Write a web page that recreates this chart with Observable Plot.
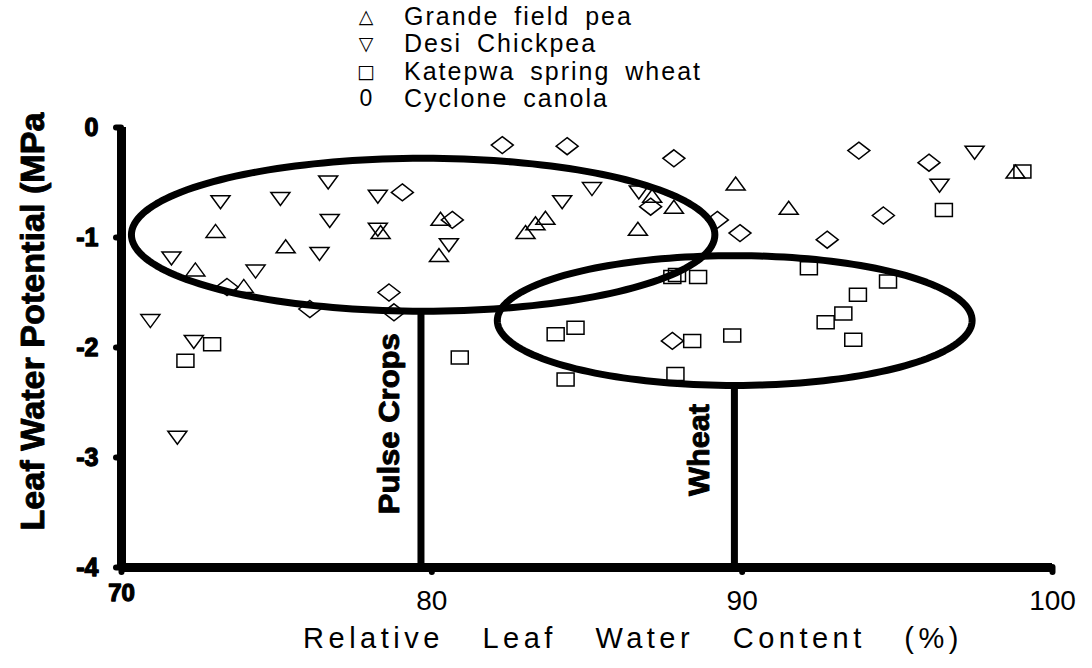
<!DOCTYPE html>
<html><head><meta charset="utf-8">
<script src="https://cdn.jsdelivr.net/npm/d3@7"></script>
<script src="https://cdn.jsdelivr.net/npm/@observablehq/plot@0.6"></script>
<style>
body{margin:0;background:#fff;font-family:"Liberation Sans",Arial,sans-serif;}
#legend{position:relative;height:112px;width:1092px;}
.row{position:absolute;left:0;height:28px;line-height:28px;font-size:25px;color:#000;white-space:nowrap;}
.sym{position:absolute;left:354px;width:24px;text-align:center;font-family:"DejaVu Sans",sans-serif;font-size:19px;}
.sym.digit{font-family:"Liberation Sans",Arial,sans-serif;font-size:23px;}
.lab{position:absolute;left:404px;letter-spacing:2px;word-spacing:6px;}
</style></head><body>
<div id="legend"></div><div id="chart"></div>
<script>
// ---- data ----
const seriesNames = ["Grande field pea", "Desi Chickpea", "Katepwa spring wheat", "Cyclone canola"];
const legendSymbols = ["\u25B3", "\u25BD", "\u25A1", "0"];

const grandeX = [73.03, 78.35, 75.29, 72.38, 73.94, 80.28, 80.23, 83.66, 83.34, 83.02, 86.64, 87.10, 87.80, 89.79, 91.50, 98.81];
const grandeY = [-0.94, -0.95, -1.08, -1.29, -1.44, -0.83, -1.16, -0.82, -0.87, -0.95, -0.92, -0.62, -0.72, -0.51, -0.73, -0.40];

const desiX = [73.19, 75.12, 76.66, 78.26, 76.71, 78.26, 76.38, 71.61, 74.32, 70.93, 72.33, 71.80, 85.16, 84.20, 86.67, 80.55, 97.49, 96.36];
const desiY = [-0.68, -0.65, -0.50, -0.63, -0.85, -0.93, -1.15, -1.19, -1.31, -1.76, -1.95, -2.82, -0.56, -0.68, -0.59, -1.07, -0.23, -0.53];

const katepwaX = [72.92, 72.06, 87.75, 87.90, 88.58, 83.99, 84.63, 80.90, 84.31, 88.39, 87.85, 99.03, 96.50, 92.15, 94.70, 93.73, 93.26, 92.69, 93.58, 89.68];
const katepwaY = [-1.97, -2.12, -1.36, -1.34, -1.36, -1.88, -1.82, -2.09, -2.29, -1.94, -2.24, -0.40, -0.75, -1.28, -1.40, -1.52, -1.69, -1.77, -1.93, -1.89];

const cycloneX = [79.05, 73.40, 76.07, 78.62, 78.78, 82.27, 84.36, 87.80, 87.05, 80.66, 87.75, 93.76, 96.02, 94.55, 89.93, 92.74, 89.20];
const cycloneY = [-0.59, -1.45, -1.65, -1.50, -1.68, -0.16, -0.17, -0.28, -0.72, -0.84, -1.94, -0.21, -0.32, -0.80, -0.96, -1.02, -0.84];

// group ellipses (centre and semi-axes, data units)
const groupNames = ["Pulse Crops", "Wheat"];
const groupCx = [79.72, 89.76];
const groupCy = [-0.975, -1.755];
const groupRx = [9.40, 7.65];
const groupRy = [0.695, 0.59];
// vertical divider lines
const dividerX = [79.65, 89.75];
const dividerTop = [-1.67, -2.35];

const xTicks = [70, 80, 90, 100];
const yTicks = [0, -1, -2, -3, -4];

// ---- legend ----
const leg = document.getElementById("legend");
seriesNames.forEach((n, i) => {
  const r = document.createElement("div");
  r.className = "row";
  r.style.top = (2 + i * 27.3) + "px";
  const cls = legendSymbols[i] === "0" ? "sym digit" : "sym";
  r.innerHTML = `<span class="${cls}">${legendSymbols[i]}</span><span class="lab">${n}</span>`;
  leg.appendChild(r);
});

// ---- symbols ----
const triUp = {draw(c){c.moveTo(-9.5,6.5);c.lineTo(9.5,6.5);c.lineTo(0,-6.5);c.closePath();}};
const triDown = {draw(c){c.moveTo(-9.5,-6.5);c.lineTo(9.5,-6.5);c.lineTo(0,6.5);c.closePath();}};
const rectSym = {draw(c){c.moveTo(-8.5,-6.5);c.lineTo(8.5,-6.5);c.lineTo(8.5,6.5);c.lineTo(-8.5,6.5);c.closePath();}};
const diamond = {draw(c){c.moveTo(0,-8.5);c.lineTo(11,0);c.lineTo(0,8.5);c.lineTo(-11,0);c.closePath();}};

const pts = (X, Y) => X.map((x, i) => ({x, y: Y[i]}));
const ellipsePts = groupNames.flatMap((g, k) =>
  d3.range(0, 360, 2).map(a => ({g, x: groupCx[k] + groupRx[k] * Math.cos(a * Math.PI / 180),
                                  y: groupCy[k] + groupRy[k] * Math.sin(a * Math.PI / 180)})));
const dividers = groupNames.map((g, k) => ({g, x: dividerX[k], top: dividerTop[k]}));

const dotOpts = {x: "x", y: "y", stroke: "black", strokeWidth: 1.5, fill: "none", r: 6};
const tickOpts = {tickSize: 5, strokeWidth: 6, strokeLinecap: "round", label: null};

const chart = Plot.plot({
  width: 1092, height: 556,
  marginTop: 15, marginBottom: 101, marginLeft: 121, marginRight: 40,
  style: {fontFamily: "'Liberation Sans', Arial, sans-serif", background: "white", color: "black"},
  x: {domain: [70, 100]},
  y: {domain: [-4, 0]},
  marks: [
    Plot.line(ellipsePts, {x: "x", y: "y", z: "g", stroke: "black", strokeWidth: 7, curve: "linear-closed"}),
    Plot.ruleX(dividers, {x: "x", y1: -4, y2: "top", stroke: "black", strokeWidth: 7}),
    Plot.dot(pts(grandeX, grandeY), {...dotOpts, symbol: triUp}),
    Plot.dot(pts(desiX, desiY), {...dotOpts, symbol: triDown}),
    Plot.dot(pts(katepwaX, katepwaY), {...dotOpts, symbol: rectSym}),
    Plot.dot(pts(cycloneX, cycloneY), {...dotOpts, symbol: diamond}),
    Plot.text(dividers.slice(0, 1), {x: "x", y: "top", text: "g", rotate: -90, textAnchor: "end", dx: -32, dy: 22, fontSize: 30, fontWeight: "bold"}),
    Plot.text(dividers.slice(1), {x: "x", y: "top", text: "g", rotate: -90, textAnchor: "end", dx: -35, dy: 18, fontSize: 30, fontWeight: "bold"}),
    Plot.ruleX([70], {y1: -4, y2: 0, stroke: "black", strokeWidth: 9}),
    Plot.ruleY([-4], {x1: 70, x2: 100, stroke: "black", strokeWidth: 9}),
    // y ticks (marks only) + heavy y tick labels
    Plot.axisY(yTicks, {...tickOpts, tickFormat: () => ""}),
    Plot.text(yTicks, {y: d => d, text: d => String(d), frameAnchor: "left", textAnchor: "end", dx: -23,
                       fontSize: 25, fontWeight: "bold", fill: "black", stroke: "black", strokeWidth: 1.3}),
    // x ticks: 70 is printed bold, the others plain
    Plot.axisX(xTicks.slice(0, 1), {...tickOpts, tickFormat: d => String(d), tickPadding: 11, fontSize: 24, fontWeight: "bold"}),
    Plot.axisX(xTicks.slice(1), {...tickOpts, tickFormat: d => String(d), tickPadding: 18, fontSize: 28}),
    Plot.text(["Relative Leaf Water Content (%)"], {frameAnchor: "bottom", dx: 46, dy: 80, fontSize: 29}),
    Plot.text(["Leaf Water Potential (MPa"], {frameAnchor: "left", textAnchor: "middle", rotate: -90, dx: -88, dy: -26, fontSize: 34, fontWeight: "bold"})
  ]
});
document.getElementById("chart").appendChild(chart);

// text styling to match the printed figure's heavy condensed / spaced type
const heavy = new Set(["70", "Leaf Water Potential (MPa", "Pulse Crops", "Wheat"]);
chart.querySelectorAll("text").forEach(el => {
  const t = el.textContent.trim();
  if (heavy.has(t)) {
    el.setAttribute("font-weight", "bold");
    el.style.fontWeight = "bold";
    el.style.stroke = "black";
    el.style.strokeWidth = t.length <= 2 ? "1.3px" : "0.9px";
    el.style.strokeLinejoin = "round";
  }
  if (t === "Relative Leaf Water Content (%)") { el.style.letterSpacing = "4.5px"; el.style.wordSpacing = "26px"; }
  if (t === "Leaf Water Potential (MPa") { el.setAttribute("textLength", 418); el.setAttribute("lengthAdjust", "spacingAndGlyphs"); }
  if (t === "Pulse Crops") { el.setAttribute("textLength", 181); el.setAttribute("lengthAdjust", "spacingAndGlyphs"); }
  if (t === "Wheat") { el.setAttribute("textLength", 92); el.setAttribute("lengthAdjust", "spacingAndGlyphs"); }
});
</script>
</body></html>
